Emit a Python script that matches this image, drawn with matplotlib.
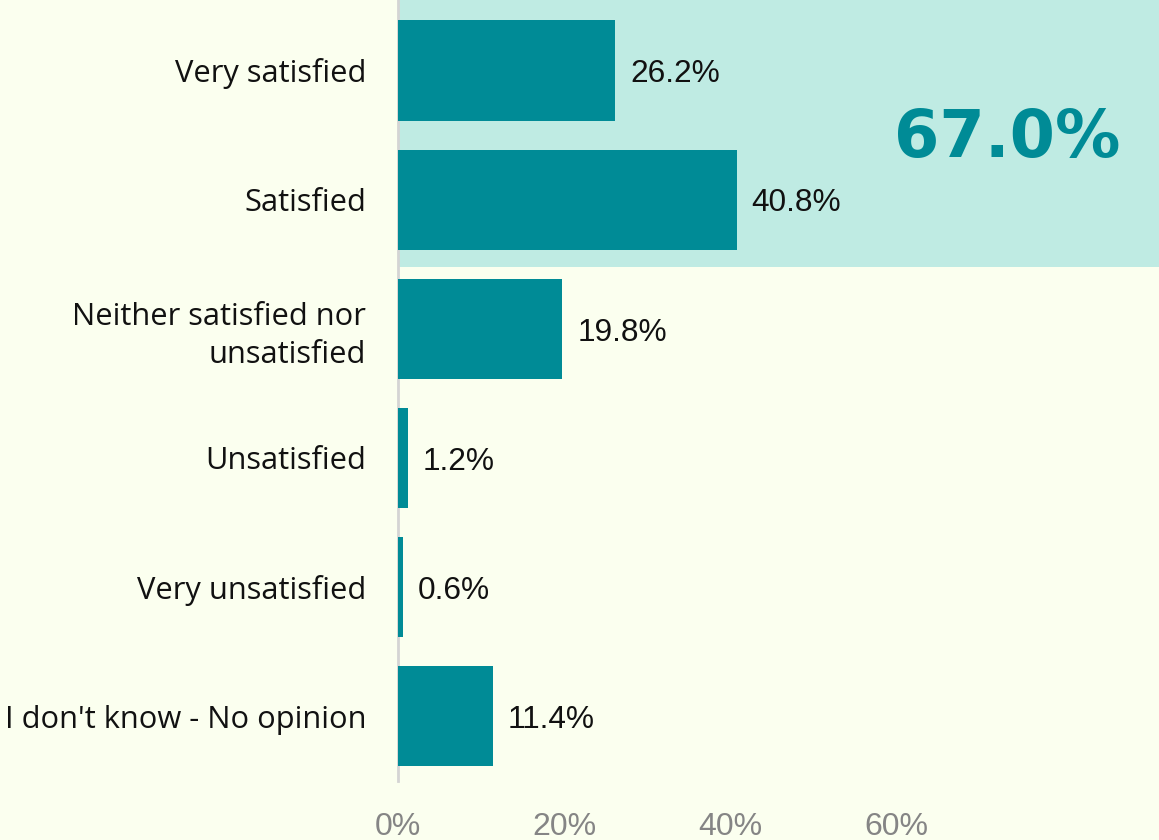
import numpy as np
import matplotlib.pyplot as plt
from matplotlib.patches import Rectangle

categories = ["Very satisfied", "Satisfied", "Neither satisfied nor\nunsatisfied",
              "Unsatisfied", "Very unsatisfied", "I don't know - No opinion"]
values = [26.2, 40.8, 19.8, 1.2, 0.6, 11.4]
x_ticks = [0, 20, 40, 60]
highlight_text = "67.0%"

bg_color = "#fbffef"
bar_color = "#008b96"
band_color = "#bfebe3"

fig = plt.figure(figsize=(11.59, 8.40), dpi=100, facecolor=bg_color)
ax = fig.add_axes([0.3434, 0.0702, 0.6566, 0.9298])
ax.set_facecolor(bg_color)

y = np.arange(len(categories))
ax.set_xlim(0, 91.7)
ax.set_ylim(5.503, -0.546)

# highlighted top-two band
ax.add_patch(Rectangle((0, -0.6), 100, 2.12, facecolor=band_color, edgecolor="none", zorder=0))

ax.barh(y, values, height=0.775, color=bar_color, zorder=2)

for yi, v in zip(y, values):
    ax.text(v + 1.8, yi + 0.03, f"{v}%", va="center", ha="left", fontsize=22.8,
            family="Liberation Sans", color="#111111", zorder=3)

ax.text(73.4, 0.67, highlight_text, ha="center", va="baseline", fontsize=47,
        fontweight="bold", family="DejaVu Sans", color=bar_color, zorder=3)

ax.set_yticks(y)
ax.set_yticklabels(categories, fontsize=22.2, family="Open Sans", color="#111111",
                   linespacing=1.35)
ax.tick_params(axis="y", length=0, pad=23)

ax.set_xticks(x_ticks)
ax.set_xticklabels([f"{t}%" for t in x_ticks], fontsize=23, family="Liberation Sans",
                   color="#858585")
ax.tick_params(axis="x", length=0, pad=22)

for s in ["top", "right", "bottom"]:
    ax.spines[s].set_visible(False)
ax.spines["left"].set_color("#d4d4d4")
ax.spines["left"].set_linewidth(2)
ax.spines["left"].set_zorder(1)

plt.savefig("out.png", dpi=100, facecolor=bg_color)
